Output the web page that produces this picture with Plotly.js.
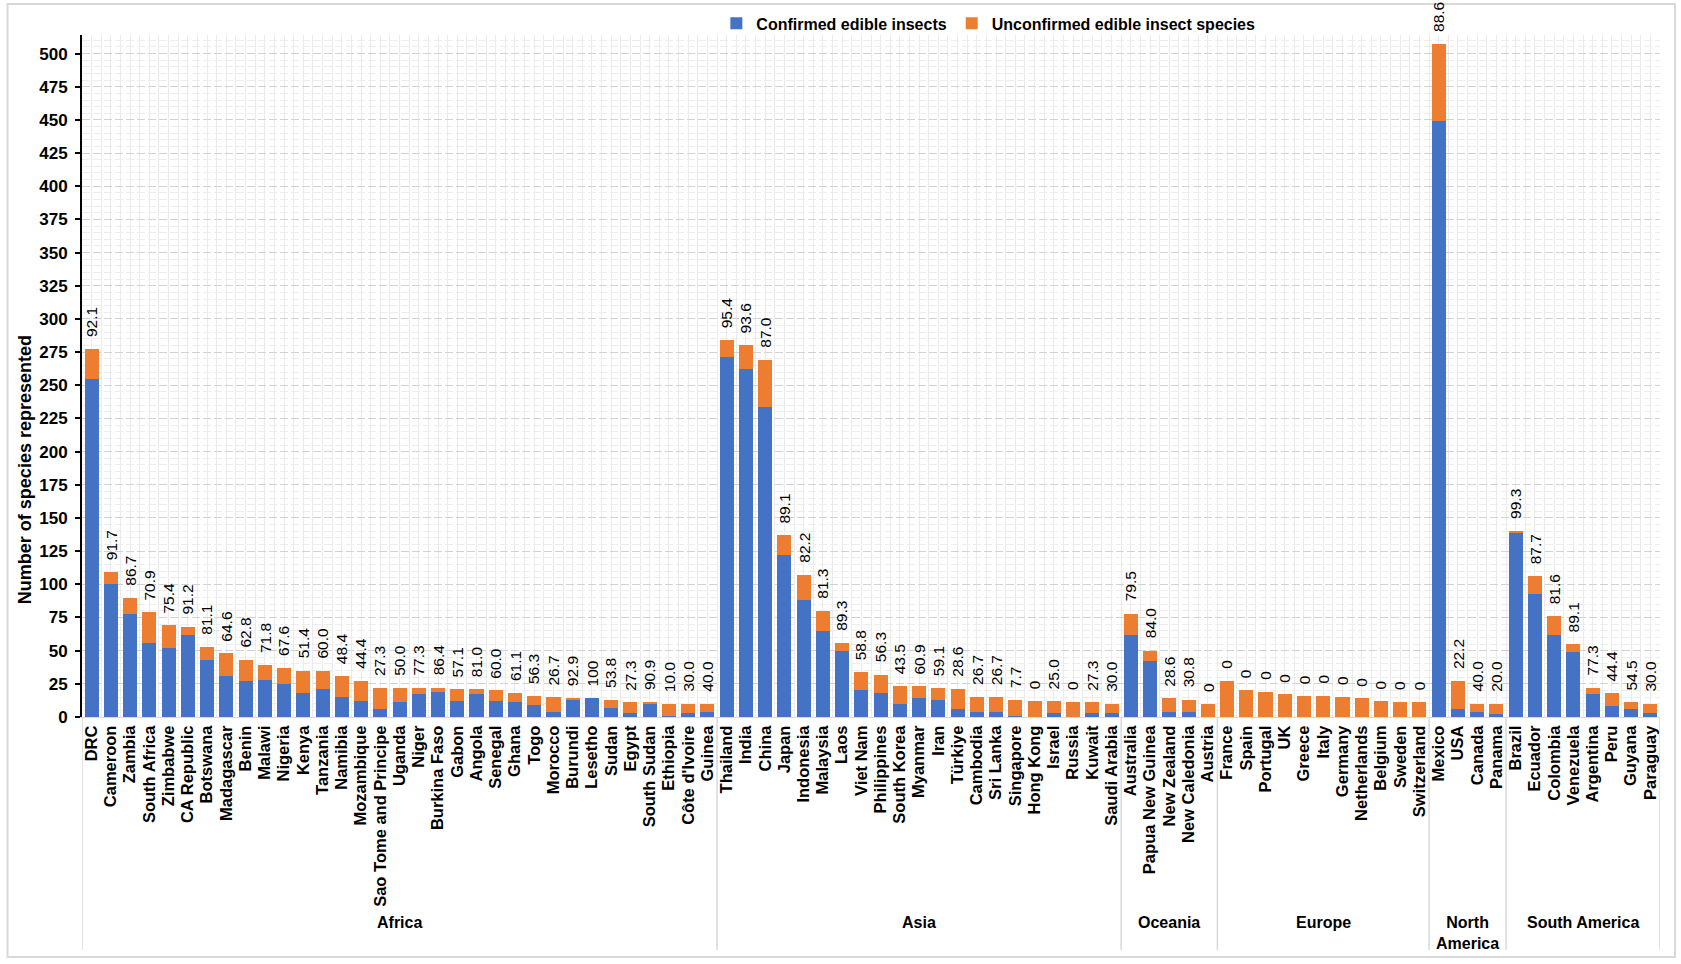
<!DOCTYPE html>
<html>
<head>
<meta charset="utf-8">
<script src="https://cdn.plot.ly/plotly-3.0.1.min.js"></script>
<style>
  html, body { margin: 0; padding: 0; background: #ffffff; }
  #chart { width: 1681px; height: 964px; }
</style>
</head>
<body>
<div id="chart"></div>
<script>
// ---------- data ----------
const countries = [
  "DRC","Cameroon","Zambia","South Africa","Zimbabwe","CA Republic","Botswana","Madagascar","Benin","Malawi",
  "Nigeria","Kenya","Tanzania","Namibia","Mozambique","Sao Tome and Principe","Uganda","Niger","Burkina Faso","Gabon",
  "Angola","Senegal","Ghana","Togo","Morocco","Burundi","Lesetho","Sudan","Egypt","South Sudan",
  "Ethiopia","Côte d'Ivoire","Guinea",
  "Thailand","India","China","Japan","Indonesia","Malaysia","Laos","Viet Nam","Philippines","South Korea",
  "Myanmar","Iran","Türkiye","Cambodia","Sri Lanka","Singapore","Hong Kong","Israel","Russia","Kuwait","Saudi Arabia",
  "Australia","Papua New Guinea","New Zealand","New Caledonia","Austria",
  "France","Spain","Portugal","UK","Greece","Italy","Germany","Netherlands","Belgium","Sweden","Switzerland",
  "Mexico","USA","Canada","Panama",
  "Brazil","Ecuador","Colombia","Venezuela","Argentina","Peru","Guyana","Paraguay"
];

const confirmed = [
  255,100,78,56,52,62,43,31,27,28,
  25,18,21,15,12,6,11,17,19,12,
  17,12,11,9,4,13,14,7,3,10,
  1,3,4,
  271,262,234,122,88,65,50,20,18,10,
  14,13,6,4,4,1,0,3,0,3,3,
  62,42,4,4,0,
  0,0,0,0,0,0,0,0,0,0,0,
  449,6,4,2,
  139,93,62,49,17,8,6,3
];

const unconfirmed = [
  22,9,12,23,17,6,10,17,16,11,
  12,17,14,16,15,16,11,5,3,9,
  4,8,7,7,11,1,0,6,8,1,
  9,7,6,
  13,18,35,15,19,15,6,14,14,13,
  9,9,15,11,11,12,12,9,11,8,7,
  16,8,10,9,10,
  27,20,19,17,16,16,15,14,12,11,11,
  58,21,6,8,
  1,13,14,6,5,10,5,7
];

const pctLabels = [
  "92.1","91.7","86.7","70.9","75.4","91.2","81.1","64.6","62.8","71.8",
  "67.6","51.4","60.0","48.4","44.4","27.3","50.0","77.3","86.4","57.1",
  "81.0","60.0","61.1","56.3","26.7","92.9","100","53.8","27.3","90.9",
  "10.0","30.0","40.0",
  "95.4","93.6","87.0","89.1","82.2","81.3","89.3","58.8","56.3","43.5",
  "60.9","59.1","28.6","26.7","26.7","7.7","0","25.0","0","27.3","30.0",
  "79.5","84.0","28.6","30.8","0",
  "0","0","0","0","0","0","0","0","0","0","0",
  "88.6","22.2","40.0","20.0",
  "99.3","87.7","81.6","89.1","77.3","44.4","54.5","30.0"
];

const continents = ["Africa","Asia","Oceania","Europe","North<br>America","South America"];
const continentSizes = [33, 21, 5, 11, 4, 8];

const seriesNames = ["Confirmed edible insects", "Unconfirmed edible insect species"];
const yTitle = "Number of species represented";

// ---------- drawing ----------
const FONT = "Arial, 'Liberation Sans', sans-serif";
const idx = countries.map((_, i) => i);
const totals = confirmed.map((v, i) => v + unconfirmed[i]);

const traces = [
  {
    type: "bar", name: seriesNames[0], x: idx, y: confirmed,
    marker: { color: "#4472C4" }, hoverinfo: "none", cliponaxis: false
  },
  {
    type: "bar", name: seriesNames[1], x: idx, y: unconfirmed,
    marker: { color: "#ED7D31" }, hoverinfo: "none", cliponaxis: false
  }
];

const annotations = [];
// value labels above each stack
idx.forEach(i => {
  annotations.push({
    x: i, y: totals[i], xref: "x", yref: "y",
    text: pctLabels[i], showarrow: false, textangle: -90,
    xanchor: "center", yanchor: "bottom", yshift: 10,
    font: { family: FONT, size: 15.5, color: "#000000" }
  });
});

// group (continent) labels and separators
const shapes = [];
let start = -0.5;
shapes.push({
  type: "line", xref: "x", yref: "paper", x0: start, x1: start, y0: 0, y1: -0.3416,
  line: { color: "#d9d9d9", width: 1.5 }
});
continents.forEach((c, k) => {
  const end = start + continentSizes[k];
  annotations.push({
    x: (start + end) / 2, y: -0.286, xref: "x", yref: "paper",
    text: c, showarrow: false, xanchor: "center", yanchor: "top",
    font: { family: FONT, size: 16, color: "#000000", weight: "bold" }
  });
  shapes.push({
    type: "line", xref: "x", yref: "paper", x0: end, x1: end, y0: 0, y1: -0.3416,
    line: { color: "#d9d9d9", width: 1.5 }
  });
  start = end;
});

// y axis title (positioned as in the reference)
annotations.push({
  x: -0.0361, y: 0.362, xref: "paper", yref: "paper",
  text: yTitle, showarrow: false, textangle: -90,
  xanchor: "center", yanchor: "middle",
  font: { family: FONT, size: 18, color: "#000000", weight: "bold" }
});

// outer frame
shapes.push({
  type: "rect", xref: "paper", yref: "paper",
  x0: -0.0472, x1: 1.0095, y0: -0.352, y1: 1.0455,
  line: { color: "#d9d9d9", width: 2 }, layer: "below"
});

const layout = {
  width: 1681, height: 964,
  margin: { l: 82, r: 21, t: 35, b: 247, autoexpand: false },
  paper_bgcolor: "#ffffff", plot_bgcolor: "#ffffff",
  barmode: "stack", bargap: 0.27,
  font: { family: FONT, color: "#000000" },
  showlegend: true,
  legend: {
    orientation: "h", x: 0.402, xanchor: "left", y: 1.017, yanchor: "middle",
    bgcolor: "rgba(0,0,0,0)", traceorder: "normal", itemwidth: 30,
    font: { family: FONT, size: 16, color: "#000000", weight: "bold" }
  },
  xaxis: {
    type: "linear", range: [-0.5, countries.length - 0.5],
    tickmode: "array", tickvals: idx, ticktext: countries,
    tickangle: -90, ticks: "", ticklabelstandoff: 1,
    tickfont: { family: FONT, size: 16.5, color: "#000000", weight: "bold" },
    showgrid: false, zeroline: false, automargin: false,
    showline: true, linecolor: "#d9d9d9", linewidth: 1,
    minor: { tick0: -0.5, dtick: 0.5, showgrid: true, gridcolor: "#ebebeb", gridwidth: 1, ticks: "" },
    fixedrange: true
  },
  yaxis: {
    range: [0, 514], tick0: 0, dtick: 25,
    ticks: "outside", ticklen: 5, tickwidth: 1.5, tickcolor: "#000000",
    ticklabelstandoff: 4, automargin: false,
    tickfont: { family: FONT, size: 17, color: "#000000", weight: "bold" },
    showline: true, linecolor: "#000000", linewidth: 2,
    showgrid: true, gridcolor: "#d2d2d2", gridwidth: 1, griddash: "8px,3px",
    minor: { dtick: 5, showgrid: true, gridcolor: "#ededed", gridwidth: 1, ticks: "" },
    zeroline: false, fixedrange: true
  },
  annotations: annotations,
  shapes: shapes
};

Plotly.newPlot("chart", traces, layout, { displayModeBar: false, responsive: false });
</script>
</body>
</html>
